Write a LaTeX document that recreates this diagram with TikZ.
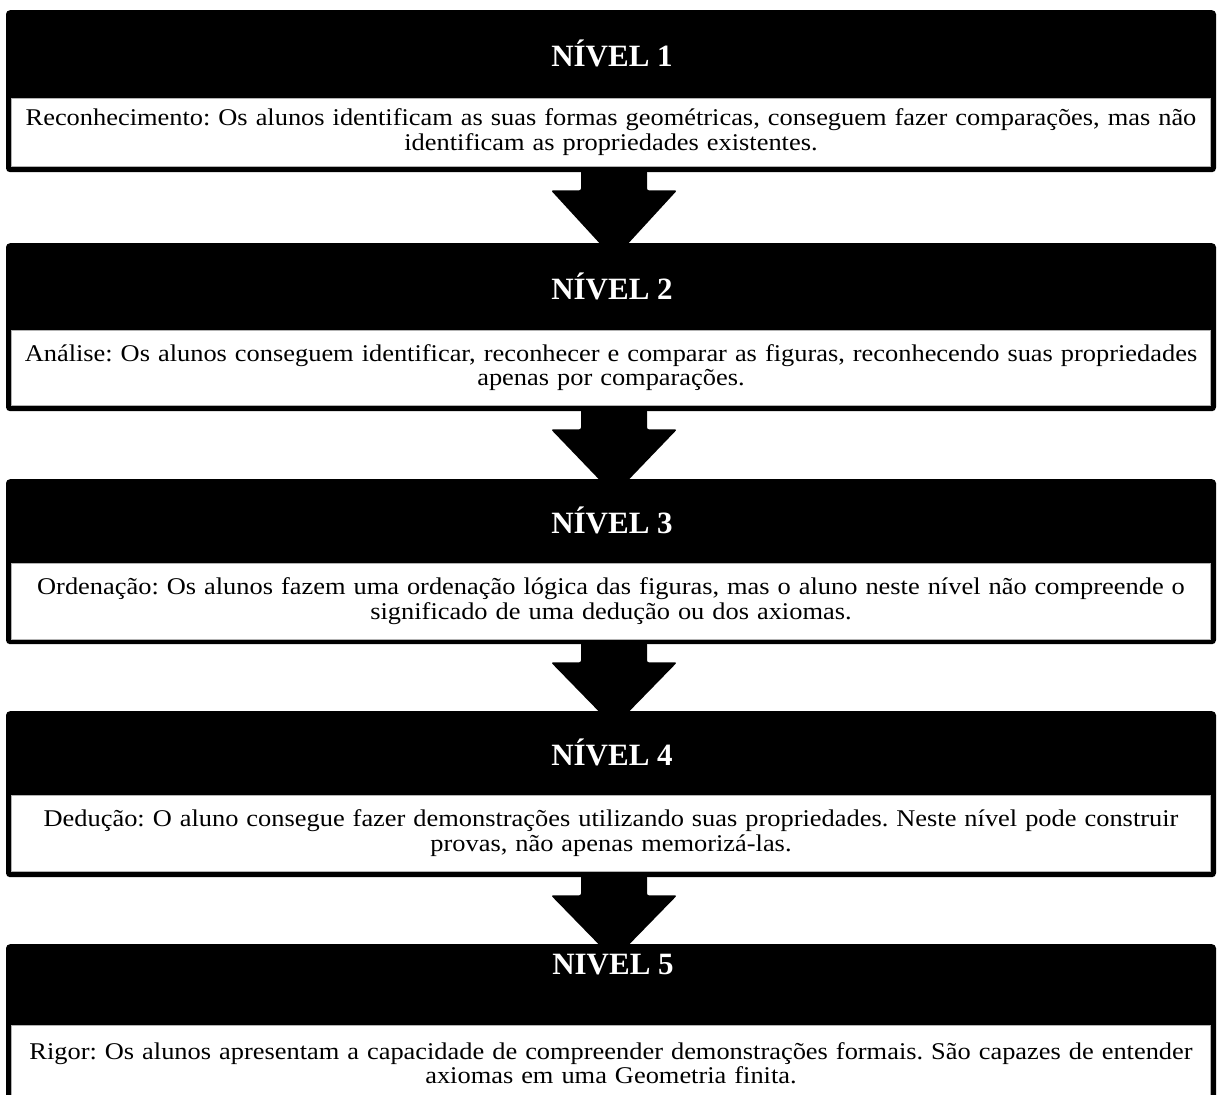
\documentclass[tikz,border=0pt]{standalone}
\usepackage{fontspec}
\setmainfont{Liberation Serif}
\newfontfamily\bodyfamily[FakeStretch=1.10]{Liberation Serif}
\usetikzlibrary{calc}
\pgfdeclarelayer{bg}
\pgfdeclarelayer{background}
\pgfsetlayers{bg,background,main}
\tikzset{
  frame/.style={fill=black, rounded corners=4pt, minimum width=1210pt, inner sep=0pt, anchor=north},
  body/.style={fill=white, draw=black!30, line width=0.5pt, minimum width=1199pt, text width=1190pt,
    inner sep=0pt, anchor=north, align=center, font=\bodyfamily\fontsize{24}{24.5}\selectfont\frenchspacing},
  head/.style={text=white, inner sep=0pt, font=\fontsize{31}{34}\selectfont\bfseries},
  blockarrow/.style={fill=black, rounded corners=2pt}
}
\newcommand{\levelarrow}[2]{%
  \fill[blockarrow] ($(#1.south)+(-30,-2)$) -- ($(#1.south)+(-30,18)$) -- ($(#1.south)+(-60,18)$)
    -- ($(#2.north)+(3,16)$) -- ($(#1.south)+(66,18)$) -- ($(#1.south)+(36,18)$)
    -- ($(#1.south)+(36,-2)$) -- cycle;}
\begin{document}
\begin{tikzpicture}[x=1pt,y=-1pt]
\begin{pgfonlayer}{bg}
\fill[white] (0,0) rectangle (1221,1095);
\end{pgfonlayer}
\useasboundingbox (0,0) rectangle (1221,1095);
% level 1
\node[frame, minimum height=162pt] (f1) at (611,10) {};
\node[body, minimum height=68pt] (t1) at (611,98) {Reconhecimento: Os alunos identificam as suas formas geométricas, conseguem fazer comparações, mas não\\ identificam as propriedades existentes.};
\node[head] (h1) at (612,53) {NÍVEL 1};
% level 2
\node[frame, minimum height=168pt] (f2) at (611,243) {};
\node[body, minimum height=75pt] (t2) at (611,330) {Análise: Os alunos conseguem identificar, reconhecer e comparar as figuras, reconhecendo suas propriedades\\ apenas por comparações.};
\node[head] (h2) at (612,286) {NÍVEL 2};
% level 3
\node[frame, minimum height=165pt] (f3) at (611,479) {};
\node[body, minimum height=76pt] (t3) at (611,563) {Ordenação: Os alunos fazem uma ordenação lógica das figuras, mas o aluno neste nível não compreende o\\ significado de uma dedução ou dos axiomas.};
\node[head] (h3) at (612,520) {NÍVEL 3};
% level 4
\node[frame, minimum height=166pt] (f4) at (611,711) {};
\node[body, minimum height=76pt] (t4) at (611,795) {Dedução: O aluno consegue fazer demonstrações utilizando suas propriedades. Neste nível pode construir\\ provas, não apenas memorizá-las.};
\node[head] (h4) at (612,752) {NÍVEL 4};
% level 5
\node[frame, minimum height=170pt] (f5) at (611,944) {};
\node[body, minimum height=76pt] (t5) at (611,1025) {Rigor: Os alunos apresentam a capacidade de compreender demonstrações formais. São capazes de entender\\ axiomas em uma Geometria finita.};
\node[head] (h5) at (613,965) {NIVEL 5};
% arrows
\begin{pgfonlayer}{background}
\levelarrow{f1}{f2}
\levelarrow{f2}{f3}
\levelarrow{f3}{f4}
\levelarrow{f4}{f5}
\end{pgfonlayer}
\end{tikzpicture}
\end{document}
